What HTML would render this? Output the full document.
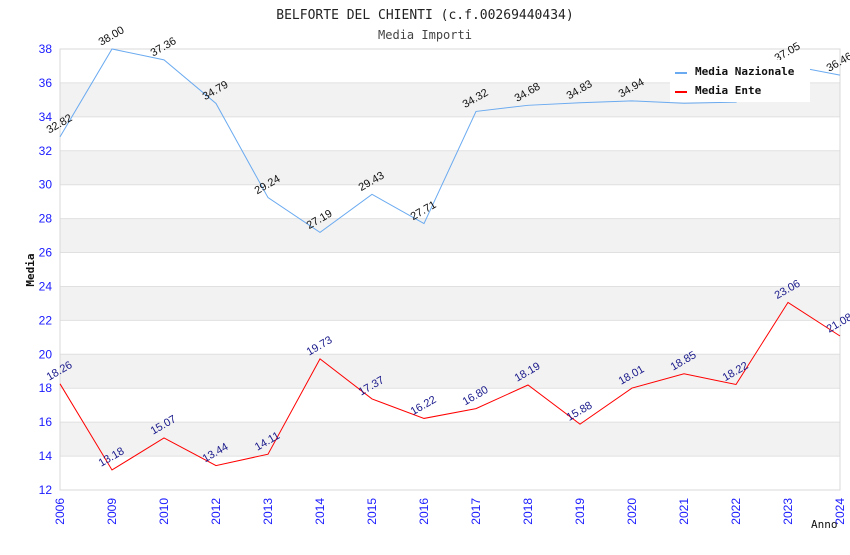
<!DOCTYPE html>
<html><head><meta charset="utf-8"><style>
body{margin:0;background:#fff;width:850px;height:550px;overflow:hidden}
svg{font-family:"Liberation Sans",Arial,sans-serif}
</style></head><body>
<svg id="c" width="850" height="550">
<text x="425" y="19" text-anchor="middle" font-family="DejaVu Sans Mono,monospace" font-size="13" fill="#222">BELFORTE DEL CHIENTI (c.f.00269440434)</text>
<text x="425" y="39" text-anchor="middle" font-family="DejaVu Sans Mono,monospace" font-size="12" fill="#444">Media Importi</text>
<g id="bands"></g><g id="grid"></g><g id="axes"></g><g id="series"></g>
<g id="legend">
<rect x="670" y="60" width="140" height="42" fill="#fff"/>
<rect x="675" y="72" width="12" height="2" fill="#6aaaf0"/>
<text x="695" y="75" font-family="DejaVu Sans Mono,monospace" font-weight="bold" font-size="11" fill="#111">Media Nazionale</text>
<rect x="675" y="91" width="12" height="2" fill="#f00"/>
<text x="695" y="94" font-family="DejaVu Sans Mono,monospace" font-weight="bold" font-size="11" fill="#111">Media Ente</text>
</g>
<text x="34" y="270" transform="rotate(-90 34 270)" text-anchor="middle" font-family="DejaVu Sans Mono,monospace" font-weight="bold" font-size="11" fill="#111">Media</text>
<text x="811" y="528" font-family="DejaVu Sans Mono,monospace" font-size="11" fill="#111">Anno</text>
</svg>
<script>
const categories=["2006","2009","2010","2012","2013","2014","2015","2016","2017","2018","2019","2020","2021","2022","2023","2024"];
const nazionale=[32.82,38.00,37.36,34.79,29.24,27.19,29.43,27.71,34.32,34.68,34.83,34.94,34.80,34.87,37.05,36.46];
const ente=[18.26,13.18,15.07,13.44,14.11,19.73,17.37,16.22,16.80,18.19,15.88,18.01,18.85,18.22,23.06,21.08];
const yTicks=[12,14,16,18,20,22,24,26,28,30,32,34,36,38];
const NS="http://www.w3.org/2000/svg";
const L=60,R=840,T=49,B=490,yMin=12,yMax=38;
const X=i=>L+i*(R-L)/(categories.length-1);
const Y=v=>B-(v-yMin)*(B-T)/(yMax-yMin);
function mk(tag,attrs,parent){const e=document.createElementNS(NS,tag);for(const k in attrs)e.setAttribute(k,attrs[k]);document.getElementById(parent).appendChild(e);return e;}
for(let i=0;i<yTicks.length-1;i++){
  if(i%2===1){const r=mk('rect',{x:L,y:Y(yTicks[i+1]),width:R-L,height:Y(yTicks[i])-Y(yTicks[i+1]),fill:'#f2f2f2'},'bands');
  
  }
}
yTicks.forEach(t=>{
  const g=mk('line',{x1:L,x2:R,y1:Y(t),y2:Y(t),stroke:'#e0e0e0'},'grid');
  
  
  const tx=mk('text',{x:L-8,y:Y(t)+4,'text-anchor':'end','font-size':12,fill:'#1a1aff'},'axes');
  tx.textContent=t;
  
  
});
const fr=mk('rect',{x:L,y:T,width:R-L,height:B-T,fill:'none',stroke:'#d8d8d8'},'axes');


categories.forEach((c,i)=>{
  const x=X(i);
  const tx=mk('text',{x:x+4,y:B+8,'text-anchor':'end','font-size':12,fill:'#1a1aff',transform:`rotate(-90 ${x+4} ${B+8})`},'axes');
  tx.textContent=c;
  
  
});
function series(vals,color,lab,name){
  const pl=mk('polyline',{points:vals.map((v,i)=>X(i)+','+Y(v)).join(' '),fill:'none',stroke:color,'stroke-width':1},'series');
  
  
  vals.forEach((v,i)=>{
    const x=X(i)+1,y=Y(v)-10;
    const t=mk('text',{x:x,y:y,'text-anchor':'middle','font-size':11,fill:lab,transform:`rotate(-30 ${x} ${y})`},'series');
    t.textContent=v.toFixed(2);
    
    
  });
}
series(nazionale,'#6aaaf0','#111','nazionale');
series(ente,'#f00','#1a1a8c','ente');
document.getElementById('c').appendChild(document.getElementById('legend'));
</script>
</body></html>
